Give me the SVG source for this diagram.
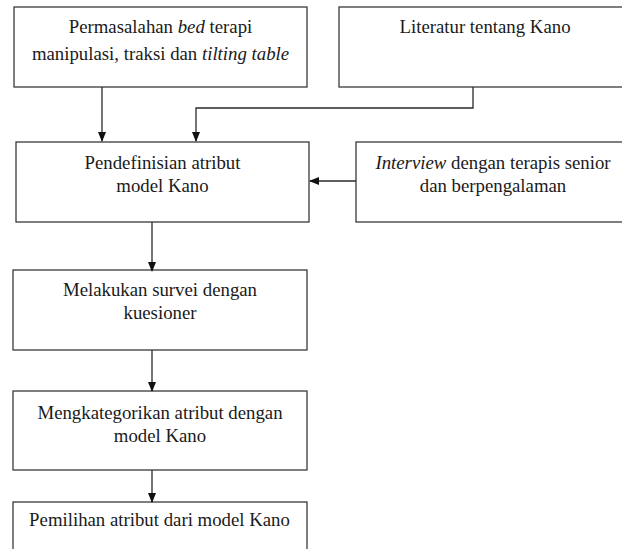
<svg xmlns="http://www.w3.org/2000/svg" width="622" height="549" viewBox="0 0 622 549">
<style>
.box{fill:#fff;stroke:#3a3a3a;stroke-width:1.3}
.t{font-family:"Liberation Serif","Times New Roman",serif;font-size:18.8px;fill:#1a1a1a;text-anchor:middle}
.i{font-style:italic}
.c{fill:none;stroke:#2a2a2a;stroke-width:1.3}
</style>
<defs>
<marker id="ah" markerWidth="10" markerHeight="10" refX="9" refY="4" orient="auto" markerUnits="userSpaceOnUse">
<path d="M0,0 L10,4 L0,8 Z" fill="#111"/>
</marker>
</defs>
<rect width="622" height="549" fill="#fff"/>
<g id="n1"><rect class="box" x="14" y="7" width="293" height="80"/>
<text class="t" x="160.5" y="33">Permasalahan <tspan class="i">bed</tspan> terapi</text>
<text class="t" x="160.5" y="60">manipulasi, traksi dan <tspan class="i">tilting table</tspan></text></g>
<g id="n2"><rect class="box" x="339" y="7" width="292" height="80"/>
<text class="t" x="485" y="33">Literatur tentang Kano</text></g>
<g id="n3"><rect class="box" x="16" y="142" width="293" height="80"/>
<text class="t" x="162.5" y="169">Pendefinisian atribut</text>
<text class="t" x="162.5" y="192">model Kano</text></g>
<g id="n4"><rect class="box" x="356" y="142" width="276" height="80"/>
<text class="t" x="493" y="169"><tspan class="i">Interview</tspan> dengan terapis senior</text>
<text class="t" x="493" y="192">dan berpengalaman</text></g>
<g id="n5"><rect class="box" x="13" y="270" width="294" height="80"/>
<text class="t" x="160" y="296">Melakukan survei dengan</text>
<text class="t" x="160" y="319">kuesioner</text></g>
<g id="n6"><rect class="box" x="13" y="391" width="294" height="79"/>
<text class="t" x="160" y="419">Mengkategorikan atribut dengan</text>
<text class="t" x="160" y="442">model Kano</text></g>
<g id="n7"><rect class="box" x="13" y="502" width="294" height="60"/>
<text class="t" x="159.5" y="526">Pemilihan atribut dari model Kano</text></g>
<g id="connectors">
<path class="c" d="M102,87 V141" marker-end="url(#ah)"/>
<path class="c" d="M473,87 V108 H196 V141" marker-end="url(#ah)"/>
<path class="c" d="M356,181 H310" marker-end="url(#ah)"/>
<path class="c" d="M152,222 V271" marker-end="url(#ah)"/>
<path class="c" d="M152,350 V391" marker-end="url(#ah)"/>
<path class="c" d="M152,470 V502" marker-end="url(#ah)"/>
</g>
</svg>
